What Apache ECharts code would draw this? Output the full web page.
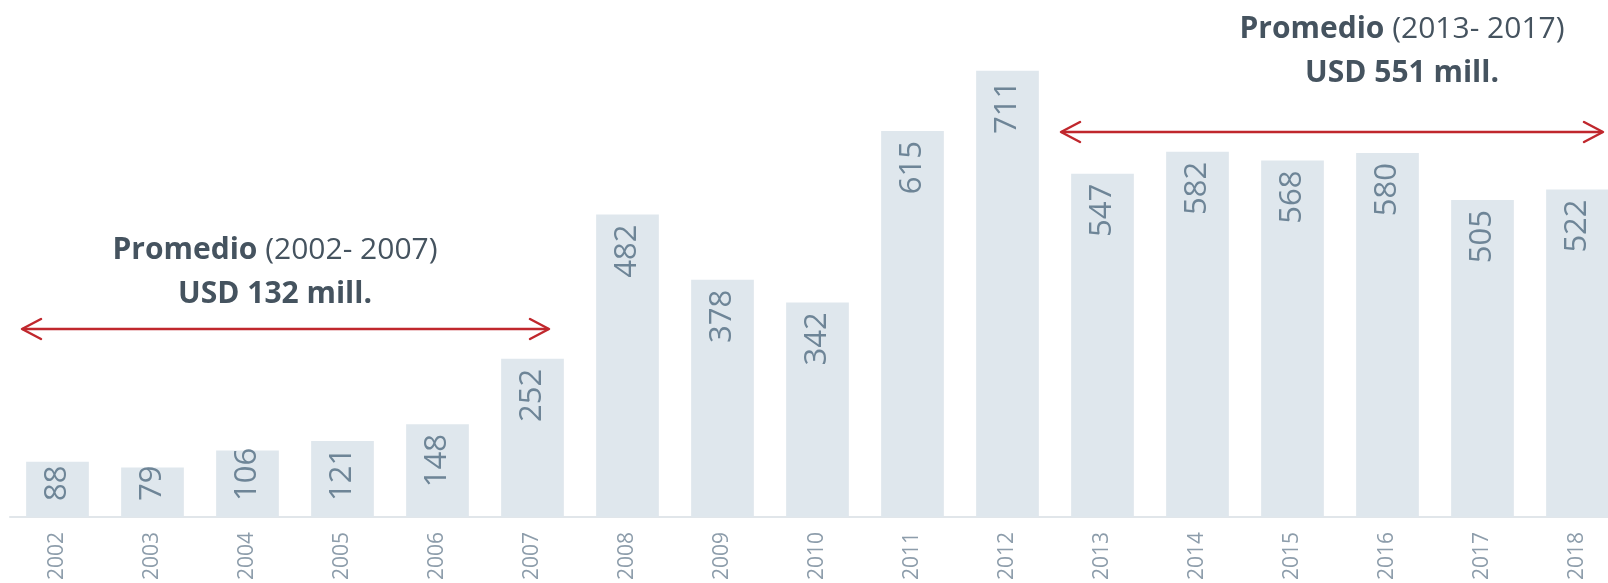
<!DOCTYPE html>
<html>
<head>
<meta charset="utf-8">
<script src="https://cdn.jsdelivr.net/npm/echarts@6/dist/echarts.min.js"></script>
<style>
html,body{margin:0;padding:0;background:#fff;}
#chart{width:1608px;height:583px;}
</style>
</head>
<body>
<div id="chart"></div>
<script>
const years = ['2002','2003','2004','2005','2006','2007','2008','2009','2010','2011','2012','2013','2014','2015','2016','2017','2018'];
const values = [88,79,106,121,148,252,482,378,342,615,711,547,582,568,580,505,522];
const noteLeft = {title: 'Promedio', period: '(2002- 2007)', amount: 'USD 132 mill.'};
const noteRight = {title: 'Promedio', period: '(2013- 2017)', amount: 'USD 551 mill.'};

const FONT = '"Open Sans", "Liberation Sans", sans-serif';
const TEXT_DARK = '#45535f';
const RED = '#c0272d';
const Y_MAX = 800;
const PLOT_H = 502;

function arrow(x1, x2, y) {
  const h = 19, w = 10;
  const s = {stroke: RED, lineWidth: 2.5, lineCap: 'round', lineJoin: 'round', fill: null};
  return {
    type: 'group', silent: true,
    children: [
      {type: 'line', shape: {x1: x1 + 1, y1: y, x2: x2 - 1, y2: y}, style: s},
      {type: 'polyline', shape: {points: [[x1 + h, y - w], [x1, y], [x1 + h, y + w]]}, style: s},
      {type: 'polyline', shape: {points: [[x2 - h, y - w], [x2, y], [x2 - h, y + w]]}, style: s}
    ]
  };
}

function note(n, cx, y1, y2) {
  return [
    {type: 'text', silent: true, x: cx, y: y1,
      style: {text: '{b|' + n.title + '}{r|\u00a0' + n.period + '}', align: 'center', verticalAlign: 'middle',
        rich: {
          b: {fontFamily: FONT, fontSize: 30, fontWeight: 'bold', fill: TEXT_DARK},
          r: {fontFamily: FONT, fontSize: 30, fontWeight: 'normal', fill: TEXT_DARK}
        }}},
    {type: 'text', silent: true, x: cx, y: y2,
      style: {text: n.amount, align: 'center', verticalAlign: 'middle',
        fontFamily: FONT, fontSize: 30, fontWeight: 'bold', fill: TEXT_DARK}}
  ];
}

// labels of short bars sit near the base (like Excel's clamped "inside end")
const barData = values.map(function (v) {
  const px = v / Y_MAX * PLOT_H;
  const len = String(v).length * 15;
  if (px < len + 34) {
    return {value: v, label: {position: 'insideBottom', align: 'left', distance: 16}};
  }
  return v;
});

const chart = echarts.init(document.getElementById('chart'), null, {renderer: 'canvas'});
chart.setOption({
  animation: false,
  backgroundColor: '#ffffff',
  grid: {left: 10, width: 1615, top: 15, height: PLOT_H, containLabel: false, outerBoundsMode: 'none'},
  xAxis: {
    type: 'category',
    data: years,
    axisLine: {show: true, lineStyle: {color: '#e1e6ea', width: 2}},
    axisTick: {show: false},
    axisLabel: {rotate: 90, color: '#8d9dab', fontFamily: FONT, fontSize: 21, margin: 15, interval: 0}
  },
  yAxis: {type: 'value', min: 0, max: Y_MAX, show: false, splitLine: {show: false}},
  series: [{
    type: 'bar',
    data: barData,
    barWidth: '66%',
    itemStyle: {color: '#dfe7ed'},
    label: {
      show: true, position: 'insideTop', rotate: 90, align: 'right', verticalAlign: 'middle',
      distance: 10, color: '#6e8597', fontFamily: FONT, fontSize: 31
    }
  }],
  graphic: [
    arrow(22, 549, 329),
    arrow(1061, 1603, 132),
    ...note(noteLeft, 275, 250, 294),
    ...note(noteRight, 1402, 29, 73)
  ]
});
</script>
</body>
</html>
